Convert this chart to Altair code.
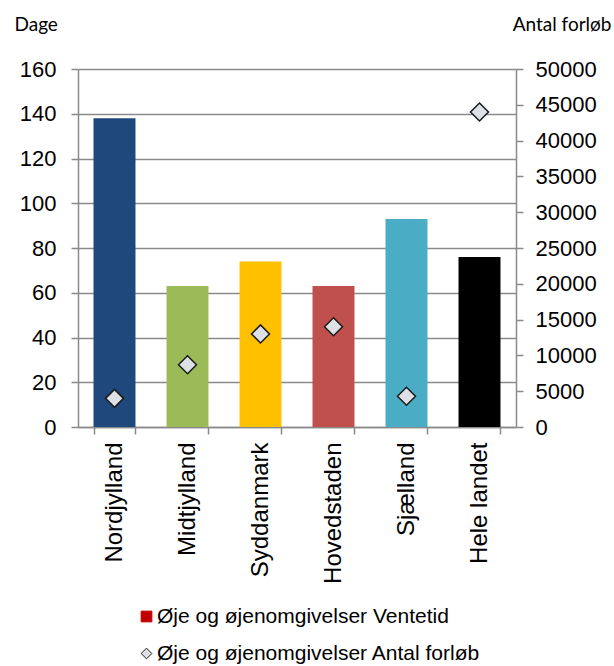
import altair as alt
import pandas as pd

# Regions and the two series
regions = ["Nordjylland", "Midtjylland", "Syddanmark", "Hovedstaden", "Sjælland", "Hele landet"]
ventetid = [138, 63, 74, 63, 93, 76]            # waiting time, days (left axis)
antal_forlob = [4000, 8700, 13000, 14000, 4300, 44000]  # number of courses (right axis)
bar_colors = ["#1f497d", "#9bbb59", "#ffc000", "#c0504d", "#4bacc6", "#000000"]

series_names = ["Øje og øjenomgivelser Ventetid", "Øje og øjenomgivelser Antal forløb"]

df = pd.DataFrame({
    "region": regions,
    "ventetid": ventetid,
    "antal": antal_forlob,
    "farve": bar_colors,
    "serie": series_names[1],
})

GRID = "#8a8a8a"
FONT = "Liberation Sans"
TITLE_FONT = "Lato"

x_enc = alt.X(
    "region:N",
    sort=regions,
    scale=alt.Scale(paddingInner=0.425, paddingOuter=0.2125),
    axis=alt.Axis(
        title=None,
        labelAngle=-90,
        labelAlign="right",
        labelBaseline="middle",
        labelFontSize=24,
        labelFont=FONT,
        labelColor="#000000",
        labelPadding=8,
        labelLimit=400,
        tickBand="extent",
        tickSize=7,
        tickColor=GRID,
        tickWidth=1.5,
        domainColor=GRID,
        domainWidth=1.5,
        grid=False,
    ),
)

bars = alt.Chart(df).mark_bar().encode(
    x=x_enc,
    y=alt.Y(
        "ventetid:Q",
        scale=alt.Scale(domain=[0, 160], nice=False),
        axis=alt.Axis(
            title="Dage",
            titleAngle=0,
            titleAlign="left",
            titleBaseline="alphabetic",
            titleX=-64,
            titleY=-39,
            titleFont=TITLE_FONT,
            titleFontSize=19,
            titleFontWeight="normal",
            titleColor="#000000",
            values=list(range(0, 161, 20)),
            labelFontSize=22,
            labelFont=FONT,
            labelColor="#000000",
            labelPadding=15,
            tickSize=7,
            tickColor=GRID,
            tickWidth=1.5,
            domainColor=GRID,
            domainWidth=1.5,
            grid=True,
            gridColor=GRID,
            gridWidth=1.3,
            orient="left",
        ),
    ),
    color=alt.Color("farve:N", scale=None, legend=None),
)

diamonds = alt.Chart(df).mark_point(size=324, filled=True, strokeWidth=1.5, opacity=1).encode(
    x=alt.X("region:N", sort=regions),
    y=alt.Y(
        "antal:Q",
        scale=alt.Scale(domain=[0, 50000], nice=False),
        axis=alt.Axis(
            title="Antal forløb",
            titleAngle=0,
            titleAlign="right",
            titleBaseline="alphabetic",
            titleX=95,
            titleY=-39,
            titleFont=TITLE_FONT,
            titleFontSize=19,
            titleFontWeight="normal",
            titleColor="#000000",
            values=list(range(0, 50001, 5000)),
            format="d",
            labelFontSize=22,
            labelFont=FONT,
            labelColor="#000000",
            labelPadding=12,
            tickSize=7,
            tickColor=GRID,
            tickWidth=1.5,
            domainColor=GRID,
            domainWidth=1.5,
            grid=False,
            orient="right",
        ),
    ),
    shape=alt.Shape(
        "serie:N",
        scale=alt.Scale(domain=series_names, range=["square", "diamond"]),
        legend=alt.Legend(
            title=None,
            orient="none",
            legendX=58,
            legendY=537,
            direction="vertical",
            labelFont=FONT,
            labelFontSize=21,
            labelColor="#000000",
            labelOffset=0,
            labelLimit=600,
            rowPadding=15,
            symbolSize=115,
            symbolStrokeWidth=1,
            symbolOpacity=1,
            padding=0,
        ),
    ),
    fill=alt.Fill(
        "serie:N",
        scale=alt.Scale(domain=series_names, range=["#c00000", "#dde1e6"]),
    ),
    stroke=alt.Stroke(
        "serie:N",
        scale=alt.Scale(domain=series_names, range=["#c00000", "#1a1a1a"]),
    ),
)

chart = (
    alt.layer(bars, diamonds)
    .resolve_scale(y="independent")
    .properties(
        width=438,
        height=358,
        autosize=alt.AutoSizeParams(type="none"),
        padding={"left": 78, "top": 69, "right": 98, "bottom": 239},
        background="#ffffff",
    )
    .configure_view(stroke=None)
)

chart.save("out.html", embed_options={"renderer": "svg", "actions": False})
